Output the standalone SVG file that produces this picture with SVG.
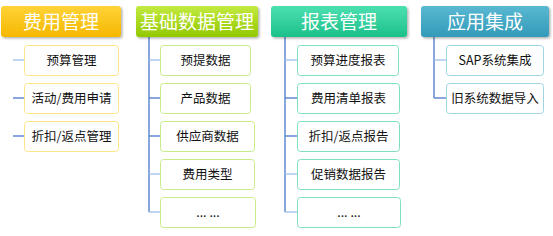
<svg xmlns="http://www.w3.org/2000/svg" width="553" height="236" viewBox="0 0 553 236">
<style>
.hd{font-family:"Noto Sans CJK SC","Microsoft YaHei",sans-serif;font-size:19px;fill:#fff;text-anchor:middle}
.tx{font-family:"Noto Sans CJK SC","Microsoft YaHei",sans-serif;font-size:12.5px;fill:#111;text-anchor:middle}
.bx{fill:#fff;stroke-width:1}
.c1{stroke:#ffe48a}
.c2{stroke:#c9ec8a}
.c3{stroke:#7fe0c0}
.c4{stroke:#9ed6e4}
.lt{stroke:#9dc0e8;stroke-width:1.3;fill:none}
.dk{stroke:#4a78cc;stroke-width:1.3;fill:none}
</style>
<defs>
<linearGradient id="g1" x1="0" y1="0" x2="0" y2="1"><stop offset="0" stop-color="#ffd338"/><stop offset="1" stop-color="#f5b800"/></linearGradient>
<linearGradient id="g2" x1="0" y1="0" x2="0" y2="1"><stop offset="0" stop-color="#c2ea40"/><stop offset="1" stop-color="#92c800"/></linearGradient>
<linearGradient id="g3" x1="0" y1="0" x2="0" y2="1"><stop offset="0" stop-color="#4ce0b0"/><stop offset="1" stop-color="#1cc08a"/></linearGradient>
<linearGradient id="g4" x1="0" y1="0" x2="0" y2="1"><stop offset="0" stop-color="#5ab8d2"/><stop offset="1" stop-color="#329ab8"/></linearGradient>
<filter id="sh" x="-10%" y="-20%" width="125%" height="160%"><feDropShadow dx="1.5" dy="1.5" stdDeviation="1.2" flood-color="#000" flood-opacity="0.3"/></filter>
</defs>
<g id="connectors">
<line class="dk" x1="149" y1="37" x2="149" y2="212"/>
<line class="dk" x1="285" y1="37" x2="285" y2="212"/>
<line class="dk" x1="434" y1="37" x2="434" y2="98"/>
<line class="lt" x1="13" y1="60" x2="24" y2="60"/>
<line class="dk" x1="13" y1="98" x2="24" y2="98"/>
<line class="dk" x1="13" y1="136" x2="24" y2="136"/>
<line class="lt" x1="149" y1="60" x2="160" y2="60"/>
<line class="dk" x1="149" y1="98" x2="160" y2="98"/>
<line class="dk" x1="149" y1="136" x2="160" y2="136"/>
<line class="lt" x1="149" y1="174" x2="160" y2="174"/>
<line class="lt" x1="149" y1="212" x2="160" y2="212"/>
<line class="lt" x1="285" y1="60" x2="297" y2="60"/>
<line class="dk" x1="285" y1="98" x2="297" y2="98"/>
<line class="dk" x1="285" y1="136" x2="297" y2="136"/>
<line class="lt" x1="285" y1="174" x2="297" y2="174"/>
<line class="lt" x1="285" y1="212" x2="297" y2="212"/>
<line class="lt" x1="434" y1="60" x2="446" y2="60"/>
<line class="dk" x1="434" y1="98" x2="446" y2="98"/>
</g>
<g id="h1"><rect x="1" y="6" width="120" height="31" rx="3" fill="url(#g1)" filter="url(#sh)"/><text class="hd" x="61" y="28.5">费用管理</text></g>
<g id="h2"><rect x="136" y="6" width="122" height="31" rx="3" fill="url(#g2)" filter="url(#sh)"/><text class="hd" x="197" y="28.5">基础数据管理</text></g>
<g id="h3"><rect x="271" y="6" width="136" height="31" rx="3" fill="url(#g3)" filter="url(#sh)"/><text class="hd" x="339" y="28.5">报表管理</text></g>
<g id="h4"><rect x="421" y="6" width="128" height="31" rx="3" fill="url(#g4)" filter="url(#sh)"/><text class="hd" x="485" y="28.5">应用集成</text></g>

<g id="n1a"><rect class="bx c1" x="24.5" y="45.5" width="94" height="30" rx="3"/><text class="tx" x="71.5" y="65">预算管理</text></g>
<g id="n1b"><rect class="bx c1" x="24.5" y="83.5" width="94" height="30" rx="3"/><text class="tx" x="71.5" y="103">活动/费用申请</text></g>
<g id="n1c"><rect class="bx c1" x="24.5" y="121.5" width="94" height="30" rx="3"/><text class="tx" x="71.5" y="141">折扣/返点管理</text></g>

<g id="n2a"><rect class="bx c2" x="160.5" y="45.5" width="90" height="30" rx="3"/><text class="tx" x="205.5" y="65">预提数据</text></g>
<g id="n2b"><rect class="bx c2" x="160.5" y="83.5" width="90" height="30" rx="3"/><text class="tx" x="205.5" y="103">产品数据</text></g>
<g id="n2c"><rect class="bx c2" x="160.5" y="121.5" width="94" height="30" rx="3"/><text class="tx" x="207.5" y="141">供应商数据</text></g>
<g id="n2d"><rect class="bx c2" x="160.5" y="159.5" width="94" height="30" rx="3"/><text class="tx" x="207.5" y="179">费用类型</text></g>
<g id="n2e"><rect class="bx c2" x="160.5" y="197.5" width="95" height="30" rx="3"/><text class="tx" x="208" y="217">... ...</text></g>

<g id="n3a"><rect class="bx c3" x="297.5" y="45.5" width="101" height="30" rx="3"/><text class="tx" x="348" y="65">预算进度报表</text></g>
<g id="n3b"><rect class="bx c3" x="297.5" y="83.5" width="102" height="30" rx="3"/><text class="tx" x="348.5" y="103">费用清单报表</text></g>
<g id="n3c"><rect class="bx c3" x="297.5" y="121.5" width="102" height="30" rx="3"/><text class="tx" x="348.5" y="141">折扣/返点报告</text></g>
<g id="n3d"><rect class="bx c3" x="297.5" y="159.5" width="102" height="30" rx="3"/><text class="tx" x="348.5" y="179">促销数据报告</text></g>
<g id="n3e"><rect class="bx c3" x="297.5" y="197.5" width="103" height="30" rx="3"/><text class="tx" x="349" y="217">... ...</text></g>

<g id="n4a"><rect class="bx c4" x="446.5" y="45.5" width="97" height="30" rx="3"/><text class="tx" x="495" y="65">SAP系统集成</text></g>
<g id="n4b"><rect class="bx c4" x="446.5" y="83.5" width="97" height="30" rx="3"/><text class="tx" x="495" y="103">旧系统数据导入</text></g>
</svg>
